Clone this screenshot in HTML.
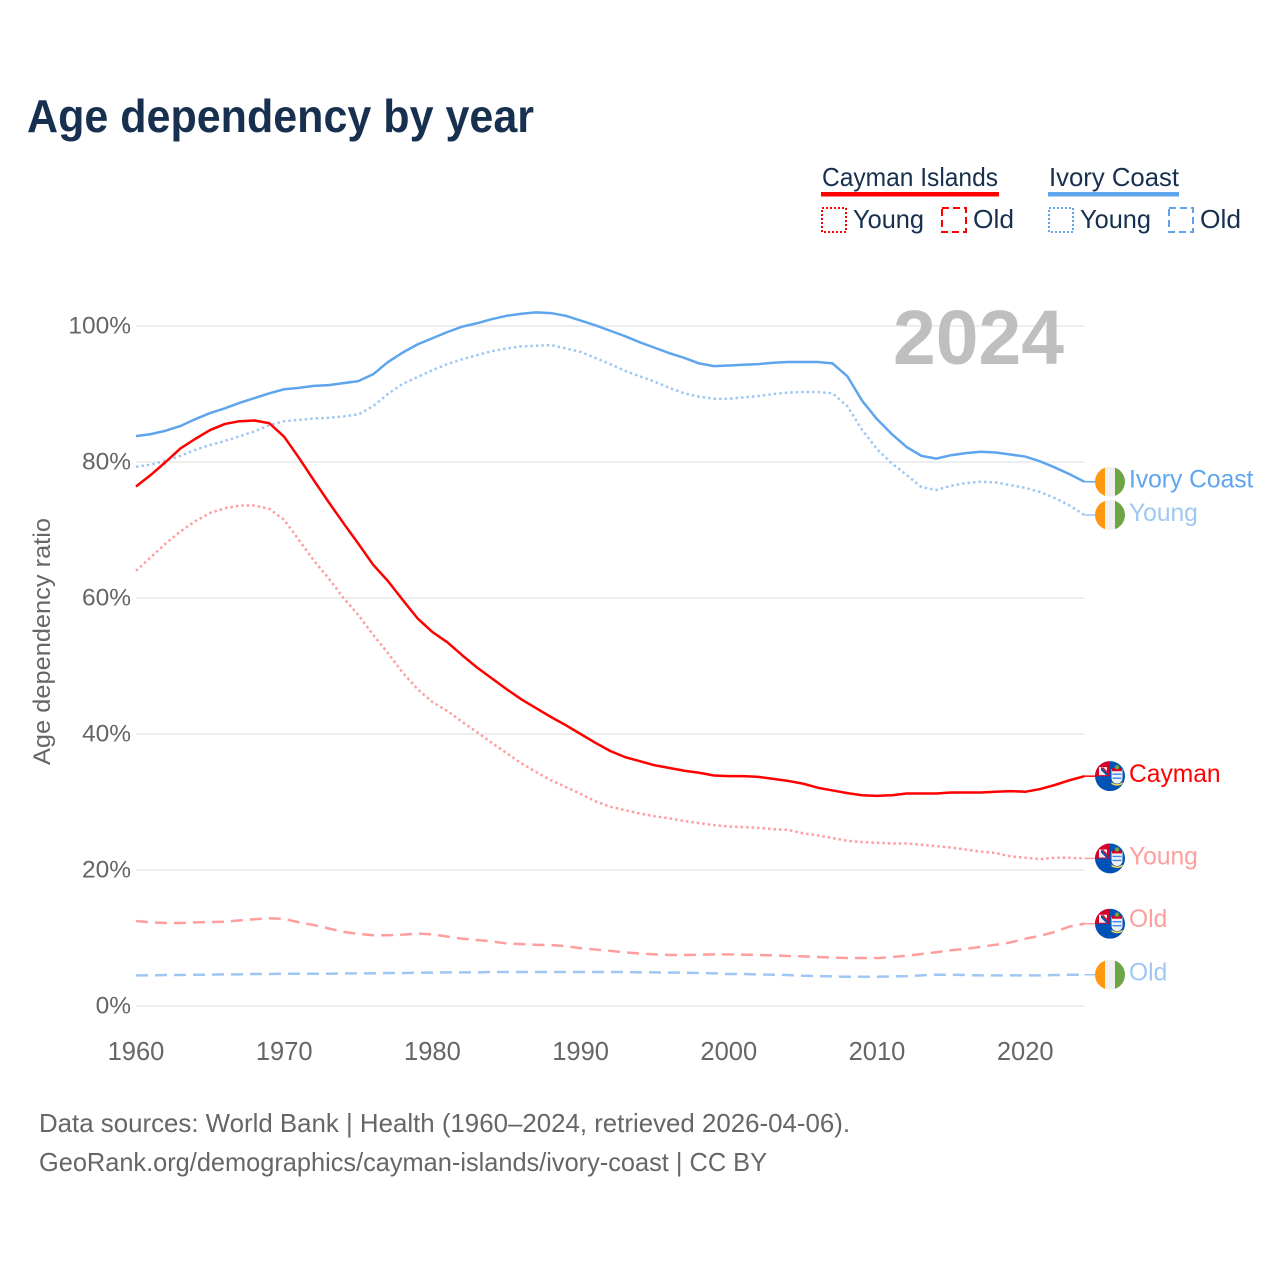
<!DOCTYPE html>
<html lang="en">
<head>
<meta charset="utf-8">
<title>Age dependency by year</title>
<style>
html,body{margin:0;padding:0;background:#fff;width:1280px;height:1280px;overflow:hidden}
svg{display:block}
text{font-family:"Liberation Sans",sans-serif}
</style>
</head>
<body>
<svg id="chart" xmlns="http://www.w3.org/2000/svg" width="1280" height="1280" viewBox="0 0 1280 1280">
  <defs>
    <clipPath id="flag-clip"><circle cx="0" cy="0" r="15"/></clipPath>
    <g id="flag-ivory">
      <g clip-path="url(#flag-clip)">
        <rect x="-15" y="-15" width="10" height="30" fill="#ff9811"/>
        <rect x="-5" y="-15" width="10" height="30" fill="#f0f0f0"/>
        <rect x="5" y="-15" width="10" height="30" fill="#6da544"/>
      </g>
    </g>
    <g id="flag-cayman">
      <g clip-path="url(#flag-clip)">
        <rect x="-15" y="-15" width="30" height="30" fill="#0052b4"/>
        <rect x="-15" y="-15" width="15" height="15" fill="#d80027"/>
        <path d="M-11,-1 L-11,-9 L-3,-9 L-3,-1 Z" fill="#f0f0f0"/>
        <path d="M-9,-9 L-1,-1 L-4,-1 L-9,-6 Z" fill="#0052b4"/>
        <path d="M-7,-9 L0,-2 L0,0 L-8,-8 Z" fill="#d80027"/>
        <path d="M1.5,-7 h11 v9 a5.5,5.5 0 0 1 -11,0 Z" fill="#f0f0f0"/>
        <rect x="2" y="-8" width="10" height="3" fill="#d80027"/>
        <path d="M2.5,-2 h9 M2.5,2 h9" stroke="#338af3" stroke-width="1.4"/>
        <path d="M1.5,6 q5.5,4 11,0 l0,2 q-5.5,3 -11,0 Z" fill="#ffda44"/>
        <circle cx="7" cy="-9" r="2.2" fill="#6da544"/>
      </g>
    </g>
  </defs>

  <text x="27" y="132" font-size="46" font-weight="700" fill="#17304f" textLength="507" lengthAdjust="spacingAndGlyphs">Age dependency by year</text>

  <g font-size="26" fill="#17304f">
    <text x="822" y="186" textLength="176" lengthAdjust="spacingAndGlyphs">Cayman Islands</text>
    <rect x="821" y="192" width="178" height="4.5" fill="#ff0000"/>
    <text x="1049" y="186" textLength="130" lengthAdjust="spacingAndGlyphs">Ivory Coast</text>
    <rect x="1048" y="192" width="131" height="4.5" fill="#5fa5ee"/>

    <rect x="822" y="208" width="24" height="24" fill="none" stroke="#ff0000" stroke-width="2" stroke-dasharray="2 2"/>
    <text x="853" y="228" textLength="71" lengthAdjust="spacingAndGlyphs">Young</text>
    <rect x="942" y="208" width="24" height="24" fill="none" stroke="#ff0000" stroke-width="2" stroke-dasharray="7 4"/>
    <text x="973" y="228" textLength="41" lengthAdjust="spacingAndGlyphs">Old</text>
    <rect x="1049" y="208" width="24" height="24" fill="none" stroke="#5fa5ee" stroke-width="2" stroke-dasharray="2 2"/>
    <text x="1080" y="228" textLength="71" lengthAdjust="spacingAndGlyphs">Young</text>
    <rect x="1169" y="208" width="24" height="24" fill="none" stroke="#5fa5ee" stroke-width="2" stroke-dasharray="7 4"/>
    <text x="1200" y="228" textLength="41" lengthAdjust="spacingAndGlyphs">Old</text>
  </g>

  <g id="grid"></g>
  <text x="1064" y="364" text-anchor="end" font-size="77" font-weight="700" fill="#bfbfbf" textLength="171" lengthAdjust="spacingAndGlyphs">2024</text>
  <g id="y-ticks"></g>
  <g id="x-ticks"></g>
  <text transform="translate(50,641.5) rotate(-90)" text-anchor="middle" font-size="24.5" fill="#666666" textLength="247" lengthAdjust="spacingAndGlyphs">Age dependency ratio</text>
  <g id="series"></g>
  <g id="end-labels"></g>

  <g font-size="26" fill="#666666">
    <text x="39" y="1132" textLength="811" lengthAdjust="spacingAndGlyphs">Data sources: World Bank | Health (1960–2024, retrieved 2026-04-06).</text>
    <text x="39" y="1171" textLength="728" lengthAdjust="spacingAndGlyphs">GeoRank.org/demographics/cayman-islands/ivory-coast | CC BY</text>
  </g>
</svg>
<script>
const startYear = 1960;
const yTickValues = [0, 20, 40, 60, 80, 100];
const xTickValues = [1960, 1970, 1980, 1990, 2000, 2010, 2020];

const ivoryTotal = [83.8,84.1,84.6,85.3,86.3,87.2,87.9,88.7,89.4,90.1,90.7,90.9,91.2,91.3,91.6,91.9,92.9,94.7,96.1,97.3,98.2,99.1,99.9,100.4,101,101.5,101.8,102,101.9,101.5,100.8,100.1,99.3,98.5,97.6,96.8,96,95.3,94.5,94.1,94.2,94.3,94.4,94.6,94.7,94.7,94.7,94.5,92.6,89,86.3,84.1,82.2,80.9,80.5,81,81.3,81.5,81.4,81.1,80.8,80.1,79.2,78.2,77.1];
const ivoryYoung = [79.3,79.6,80.2,80.9,81.8,82.5,83.1,83.8,84.5,85.4,86,86.2,86.4,86.5,86.7,87,88.2,90,91.5,92.5,93.5,94.4,95.1,95.7,96.3,96.7,97,97.1,97.2,96.7,96.2,95.3,94.4,93.4,92.6,91.8,90.9,90.1,89.6,89.3,89.3,89.5,89.7,90,90.2,90.3,90.3,90.1,88.2,84.7,81.9,79.8,78.1,76.3,75.9,76.5,76.9,77.1,77,76.6,76.2,75.6,74.7,73.6,72.2];
const ivoryOld = [4.5,4.5,4.55,4.55,4.6,4.6,4.65,4.65,4.7,4.7,4.75,4.75,4.75,4.75,4.8,4.8,4.8,4.85,4.85,4.9,4.9,4.95,4.95,4.95,5,5,5,5,5,5,5,5,5,5,4.95,4.95,4.9,4.9,4.85,4.8,4.7,4.7,4.65,4.6,4.55,4.45,4.4,4.35,4.3,4.3,4.3,4.35,4.4,4.5,4.6,4.6,4.55,4.5,4.5,4.5,4.5,4.5,4.55,4.6,4.6];
const caymanTotal = [76.4,78.1,80,82,83.4,84.7,85.6,86,86.1,85.7,83.7,80.6,77.3,74.1,71,68,64.9,62.5,59.7,57,55,53.5,51.6,49.8,48.2,46.6,45.1,43.8,42.5,41.3,40,38.7,37.5,36.6,36,35.4,35,34.6,34.3,33.9,33.8,33.8,33.7,33.4,33.1,32.7,32.1,31.7,31.3,31,30.9,31,31.25,31.25,31.25,31.4,31.4,31.4,31.5,31.6,31.5,31.9,32.5,33.2,33.8];
const caymanYoung = [64,66,68,69.8,71.3,72.5,73.2,73.6,73.6,73.1,71.5,68.5,65.5,62.9,60,57.5,54.6,51.9,49,46.6,44.7,43.4,41.8,40.3,38.7,37.2,35.7,34.4,33.2,32.2,31.2,30.1,29.3,28.8,28.3,27.9,27.6,27.2,26.9,26.6,26.4,26.3,26.2,26,25.9,25.4,25.1,24.7,24.3,24.1,24,23.9,23.9,23.7,23.5,23.3,23,22.7,22.5,22,21.8,21.6,21.8,21.8,21.7];
const caymanOld = [12.5,12.3,12.2,12.2,12.3,12.35,12.4,12.6,12.75,12.9,12.8,12.3,11.9,11.4,10.9,10.6,10.4,10.4,10.5,10.65,10.55,10.2,9.9,9.7,9.5,9.2,9.1,9,8.95,8.8,8.5,8.3,8.1,7.9,7.7,7.6,7.5,7.5,7.55,7.6,7.6,7.55,7.5,7.45,7.35,7.3,7.2,7.1,7.05,7.05,7.05,7.2,7.4,7.65,7.9,8.2,8.4,8.7,9,9.35,9.9,10.3,10.9,11.7,12.1];

const seriesNames = ['cayman-old', 'ivory-old', 'cayman-young', 'ivory-young', 'cayman-total', 'ivory-total'];
const seriesLabels = ['Old', 'Old', 'Young', 'Young', 'Cayman', 'Ivory Coast'];
const seriesValues = [caymanOld, ivoryOld, caymanYoung, ivoryYoung, caymanTotal, ivoryTotal];
const seriesFlags = ['cayman', 'ivory', 'cayman', 'ivory', 'cayman', 'ivory'];

const SVGNS = 'http://www.w3.org/2000/svg';
const plotLeft = 136, pxPerYear = 14.82, plotBase = 1006, pxPerPct = 6.8, plotRight = 1084.5;
function xScale(year) { return plotLeft + (year - startYear) * pxPerYear; }
function yScale(v) { return plotBase - v * pxPerPct; }
function styleFor(name) {
  const isRed = name.indexOf('cayman') === 0;
  const isTotal = name.indexOf('total') > 0;
  const isOld = name.indexOf('old') > 0;
  const color = isTotal ? (isRed ? '#ff0000' : '#5fa5ee') : (isRed ? '#ff9e9e' : '#9fc7f3');
  return { color: color, dash: isTotal ? '' : (isOld ? '12 7' : '2.5 3') };
}
function labelOffset(name) {
  if (name === 'cayman-old') return 3.5;
  if (name === 'ivory-young') return 6;
  return 6;
}

const grid = document.getElementById('grid');
const yTicks = document.getElementById('y-ticks');
yTickValues.forEach(function (v) {
  const line = document.createElementNS(SVGNS, 'line');
  
  
  line.setAttribute('x1', plotLeft);
  line.setAttribute('x2', plotRight);
  line.setAttribute('y1', yScale(v));
  line.setAttribute('y2', yScale(v));
  line.setAttribute('stroke', '#eeeeee');
  line.setAttribute('stroke-width', '2');
  grid.appendChild(line);
  const t = document.createElementNS(SVGNS, 'text');
  
  
  t.setAttribute('x', 131);
  t.setAttribute('y', yScale(v) + 7.5);
  t.setAttribute('text-anchor', 'end');
  t.setAttribute('font-size', '24.5');
  t.setAttribute('fill', '#666666');
  t.textContent = v + '%';
  yTicks.appendChild(t);
});

const xTicks = document.getElementById('x-ticks');
xTickValues.forEach(function (yr) {
  const t = document.createElementNS(SVGNS, 'text');
  
  
  t.setAttribute('x', xScale(yr));
  t.setAttribute('y', 1060);
  t.setAttribute('text-anchor', 'middle');
  t.setAttribute('font-size', '25.5');
  t.setAttribute('fill', '#666666');
  t.textContent = String(yr);
  xTicks.appendChild(t);
});

const seriesGroup = document.getElementById('series');
const labelGroup = document.getElementById('end-labels');
seriesNames.forEach(function (name, i) {
  const vals = seriesValues[i];
  const st = styleFor(name);
  const lastY = yScale(vals[vals.length - 1]);
  const pts = vals.map(function (v, j) { return xScale(startYear + j).toFixed(2) + ',' + yScale(v).toFixed(2); });
  const line = document.createElementNS(SVGNS, 'polyline');
  
  
  line.setAttribute('points', pts.join(' '));
  line.setAttribute('fill', 'none');
  line.setAttribute('stroke', st.color);
  line.setAttribute('stroke-width', '2.5');
  line.setAttribute('stroke-linejoin', 'round');
  if (st.dash) line.setAttribute('stroke-dasharray', st.dash);
  seriesGroup.appendChild(line);

  const lead = document.createElementNS(SVGNS, 'line');
  
  
  lead.setAttribute('x1', plotRight);
  lead.setAttribute('x2', 1096);
  lead.setAttribute('y1', lastY);
  lead.setAttribute('y2', lastY);
  lead.setAttribute('stroke', st.color);
  lead.setAttribute('stroke-width', '1.5');
  labelGroup.appendChild(lead);

  const flag = document.createElementNS(SVGNS, 'use');
  
  
  flag.setAttribute('href', '#flag-' + seriesFlags[i]);
  flag.setAttribute('transform', 'translate(1110,' + lastY + ')');
  labelGroup.appendChild(flag);

  const t = document.createElementNS(SVGNS, 'text');
  
  
  t.setAttribute('x', 1129);
  t.setAttribute('y', lastY + labelOffset(name));
  t.setAttribute('font-size', '24.6');
  t.setAttribute('fill', st.color);
  t.textContent = seriesLabels[i];
  labelGroup.appendChild(t);
});
</script>
</body>
</html>
